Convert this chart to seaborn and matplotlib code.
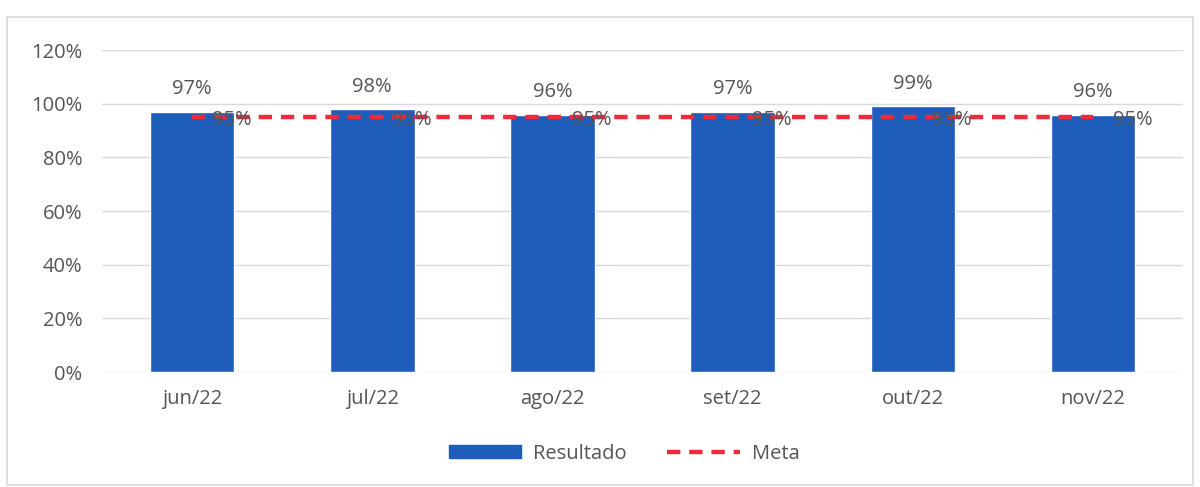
import matplotlib
matplotlib.use("Agg")
import matplotlib.pyplot as plt
import seaborn as sns
import numpy as np
import pandas as pd
from matplotlib.patches import Patch, Rectangle
from matplotlib.lines import Line2D

months = ["jun/22", "jul/22", "ago/22", "set/22", "out/22", "nov/22"]
resultado = [97, 98, 96, 97, 99, 96]
meta = [95, 95, 95, 95, 95, 95]
yticks = [0, 20, 40, 60, 80, 100, 120]

sns.set_theme(style="white")
plt.rcParams['font.family'] = ['Open Sans', 'DejaVu Sans']

bar_color = "#1F5DBA"
line_color = "#EE2B3B"
text_color = "#555555"
fs = 14.5

df = pd.DataFrame({"mes": months, "Resultado": resultado, "Meta": meta,
                   "pos": np.arange(len(months))})

fig = plt.figure(figsize=(12, 4.87), dpi=100)
ax = fig.add_axes([0.085, 0.236, 0.901, 0.661])

sns.barplot(data=df, x="mes", y="Resultado", color=bar_color, width=0.47,
            saturation=1, ax=ax, zorder=2)
sns.lineplot(data=df, x="pos", y="Meta", color=line_color, linestyle=(0, (3, 2)),
             linewidth=3.2, ax=ax, zorder=3)

ax.set_ylim(0, 120)
ax.set_xlim(-0.5, len(months) - 0.5)
ax.set_yticks(yticks)
ax.set_yticklabels([f"{v}%" for v in yticks], color=text_color, fontsize=fs)
ax.set_xticks(range(len(months)))
ax.set_xticklabels(months, color=text_color, fontsize=fs)
ax.set_xlabel("")
ax.set_ylabel("")
ax.yaxis.grid(True, color="#D9D9D9", linewidth=1, zorder=0)
ax.set_axisbelow(True)
for s in ax.spines.values():
    s.set_visible(False)
ax.tick_params(axis="y", length=0, pad=14)
ax.tick_params(axis="x", length=0, pad=12)

for i, v in enumerate(resultado):
    ax.annotate(f"{v}%", (i, v), xytext=(0, 9), textcoords="offset points",
                ha="center", va="bottom", color=text_color, fontsize=fs)
for i, v in enumerate(meta):
    ax.annotate(f"{v}%", (i, v), xytext=(14, -2), textcoords="offset points",
                ha="left", va="center", color=text_color, fontsize=fs, zorder=5)

handles = [Patch(facecolor=bar_color, edgecolor=bar_color),
           Line2D([0], [0], color=line_color, linestyle=(0, (3, 2)), linewidth=3.2)]
fig.legend(handles, ["Resultado", "Meta"], loc="center", bbox_to_anchor=(0.52, 0.068),
           ncol=2, frameon=False, fontsize=fs, labelcolor=text_color,
           handlelength=3.6, handleheight=0.6, columnspacing=2, handletextpad=0.6)

fig.add_artist(Rectangle((0.006, 0.005), 0.988, 0.96, transform=fig.transFigure,
                         fill=False, edgecolor="#D9D9D9", linewidth=1.2))

fig.savefig("out.png", dpi=100, facecolor="white")
